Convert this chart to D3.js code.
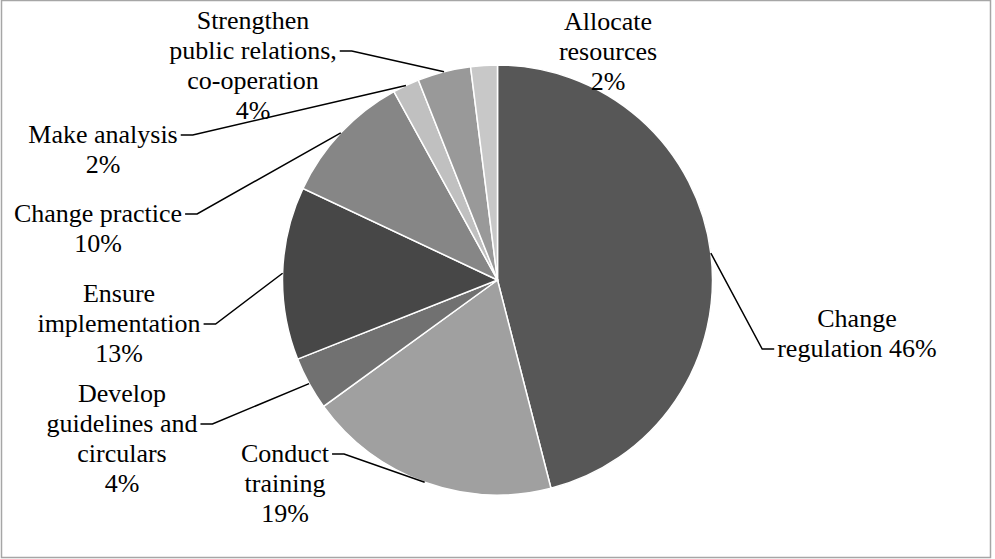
<!DOCTYPE html>
<html><head><meta charset="utf-8">
<script src="https://cdn.jsdelivr.net/npm/d3@7"></script>
<style>
@font-face{font-family:"ChartSerif";src:local("Liberation Serif"),local("LiberationSerif"),local("Liberation Serif Regular"),local("LiberationSerif-Regular");}
body{margin:0;background:#fff}
svg{display:block}
svg text{font-family:"ChartSerif","Liberation Serif" !important;}
</style>
</head><body>
<script>
const categories = ["Change regulation","Conduct training","Develop guidelines and circulars","Ensure implementation","Change practice","Make analysis","Strengthen public relations, co-operation","Allocate resources"];
const values = [46,19,4,13,10,2,4,2];
const labelLines = [
  ["Change","regulation 46%"],
  ["Conduct","training","19%"],
  ["Develop","guidelines and","circulars","4%"],
  ["Ensure","implementation","13%"],
  ["Change practice","10%"],
  ["Make analysis","2%"],
  ["Strengthen","public relations,","co-operation","4%"],
  ["Allocate","resources","2%"]
];
const colors = ["#575757","#a0a0a0","#717171","#474747","#868686","#c0c0c0","#999999","#c8c8c8"];

// layout: label center x, first baseline y, line index where leader attaches, leader side
const layout = [
  {x:857,y:327,att:1,side:"left"},
  {x:285,y:462,att:0,side:"right"},
  {x:122,y:402,att:1,side:"right"},
  {x:119,y:302,att:1,side:"right"},
  {x:98,y:222,att:0,side:"right"},
  {x:103,y:143,att:0,side:"right"},
  {x:253,y:29,att:1,side:"right"},
  {x:608,y:30,att:null}
];

const W=995,H=559,cx=497.5,cy=280,R=215,LH=30;
const svg=d3.select("body").append("svg").attr("width",W).attr("height",H);
svg.append("rect").attr("x",1.5).attr("y",0.5).attr("width",989).attr("height",557)
  .attr("fill","#fff").attr("stroke","#a6a6a6").attr("stroke-width",1.5);

const pie=d3.pie().sort(null).value(d=>d)(values);
const arc=d3.arc().innerRadius(0).outerRadius(R);
const g=svg.append("g").attr("transform",`translate(${cx},${cy})`);
g.selectAll("path").data(pie).join("path").attr("d",arc)
  .attr("fill",(d,i)=>colors[i]).attr("stroke","#fff").attr("stroke-width",1.5);

pie.forEach((d,i)=>{
  const L=layout[i];
  labelLines[i].forEach((s,k)=>{
    const t=svg.append("text").attr("x",L.x).attr("y",L.y+k*LH).attr("text-anchor","middle")
      .attr("font-size",26).attr("fill","#000").text(s);
    t.node().setAttribute("style","font-family:'Liberation Serif' !important;font-size:26px");
  });
  if(L.att===null) return;
  const probe=svg.append("text").attr("font-size",26).attr("opacity",0).text(labelLines[i][L.att]);
  probe.node().setAttribute("style","font-family:'Liberation Serif' !important;font-size:26px");
  const w=probe.node().getComputedTextLength(); probe.remove();
  const ly=L.y+L.att*LH-8;
  const a=(d.startAngle+d.endAngle)/2;
  const px=cx+R*Math.sin(a), py=cy-R*Math.cos(a);
  let x0,x1;
  if(L.side==="right"){x0=L.x+w/2+3;x1=x0+12;}
  else{x0=L.x-w/2-3;x1=x0-12;}
  svg.append("path").attr("d",`M${x0},${ly}L${x1},${ly}L${px},${py}`)
    .attr("fill","none").attr("stroke","#000").attr("stroke-width",1.5);
});
</script>
</body></html>
